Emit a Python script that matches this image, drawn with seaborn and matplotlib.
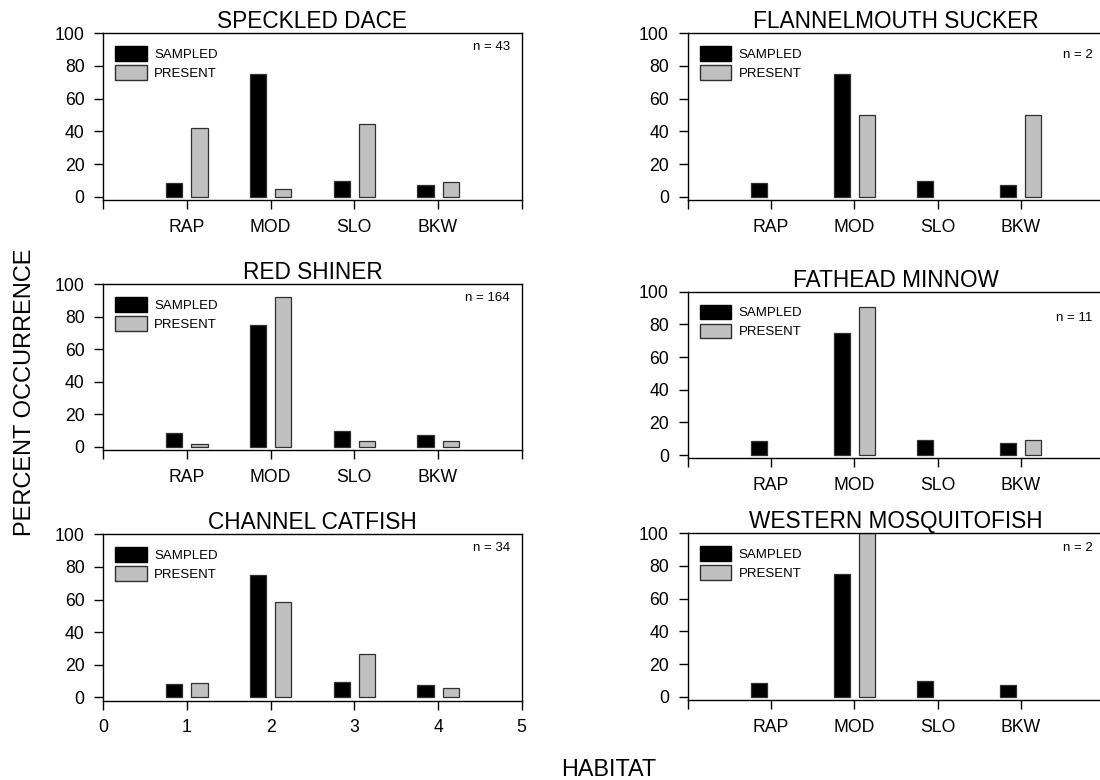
import numpy as np
import pandas as pd
import matplotlib
matplotlib.use("Agg")
import matplotlib.pyplot as plt
from matplotlib.patches import Patch
import seaborn as sns

# Habitat categories (coded 1-4 on the x axis)
habitats = ["RAP", "MOD", "SLO", "BKW"]
habitat_codes = [1, 2, 3, 4]

# Percent of samples taken in each habitat (same for every species)
sampled = [8.4, 75.0, 9.5, 7.4]

# Percent occurrence of each species by habitat
speckled_dace = [41.9, 4.7, 44.2, 9.3]
flannelmouth_sucker = [0.0, 50.0, 0.0, 50.0]
red_shiner = [1.8, 92.1, 3.7, 3.7]
fathead_minnow = [0.0, 90.9, 0.0, 9.1]
channel_catfish = [8.8, 58.8, 26.5, 5.9]
western_mosquitofish = [0.0, 100.0, 0.0, 0.0]

species = ["SPECKLED DACE", "FLANNELMOUTH SUCKER", "RED SHINER",
           "FATHEAD MINNOW", "CHANNEL CATFISH", "WESTERN MOSQUITOFISH"]
sample_sizes = [43, 2, 164, 11, 34, 2]
present = [speckled_dace, flannelmouth_sucker, red_shiner,
           fathead_minnow, channel_catfish, western_mosquitofish]

series = ["SAMPLED", "PRESENT"]
colors = {"SAMPLED": "#000000", "PRESENT": "#c0c0c0"}

sns.set_style("ticks")
plt.rcParams["font.family"] = ["Liberation Sans", "DejaVu Sans"]
plt.rcParams["text.color"] = "black"
plt.rcParams["axes.labelcolor"] = "black"
plt.rcParams["xtick.color"] = "black"
plt.rcParams["ytick.color"] = "black"

W, H = 1100, 780
fig = plt.figure(figsize=(W / 100, H / 100), dpi=100)

# panel frames in pixels: (left, top, width, height)
frames = [
    (103.3, 33.3, 418.4, 166.7),
    (687.7, 33.3, 416.5, 166.7),
    (103.3, 284.3, 418.4, 165.7),
    (687.7, 291.7, 416.5, 166.7),
    (103.3, 534.3, 418.4, 166.4),
    (687.7, 533.3, 416.5, 166.7),
]
n_label_y = [0.915, 0.87, 0.915, 0.84, 0.915, 0.91]

for i, (name, n, pres) in enumerate(zip(species, sample_sizes, present)):
    l, t, w, h = frames[i]
    ax = fig.add_axes([l / W, 1 - (t + h) / H, w / W, h / H])

    df = pd.DataFrame({
        "habitat": habitat_codes * 2,
        "pct": sampled + pres,
        "series": [series[0]] * 4 + [series[1]] * 4,
    })
    df = df[df["pct"] > 0]

    sns.barplot(data=df, x="habitat", y="pct", hue="series", hue_order=series,
                palette=colors, native_scale=True, width=0.6, gap=0.36,
                dodge=True, errorbar=None, edgecolor="#303030", linewidth=0.9,
                legend=False, ax=ax)

    ax.set_xlim(0, 5)
    ax.set_ylim(-2, 100)
    ax.set_xlabel("")
    ax.set_ylabel("")
    ax.set_yticks([0, 20, 40, 60, 80, 100])
    ax.set_xticks([0, 1, 2, 3, 4, 5])
    if i == 4:
        ax.set_xticklabels(["0", "1", "2", "3", "4", "5"])
    else:
        ax.set_xticklabels([""] + habitats + [""])
    ax.tick_params(axis="both", direction="out", length=6.5, width=1.0,
                   labelsize=12.7, color="black", labelcolor="black")
    ax.tick_params(axis="x", pad=7)
    ax.tick_params(axis="y", pad=7)
    for sp in ax.spines.values():
        sp.set_visible(True)
        sp.set_linewidth(1.0)
        sp.set_color("black")

    ax.set_title(name, fontsize=16.3, pad=2, color="black")

    handles = [Patch(facecolor=colors["SAMPLED"], edgecolor="#000000", linewidth=1.0),
               Patch(facecolor=colors["PRESENT"], edgecolor="#303030", linewidth=1.0)]
    ax.legend(handles=handles, labels=series, loc="upper left",
              bbox_to_anchor=(12 / w, 1 - 13 / h), frameon=False,
              fontsize=9.5, handlelength=2.4, handleheight=1.28,
              handletextpad=0.55, labelspacing=0.35, borderpad=0,
              borderaxespad=0, labelcolor="black")

    ax.text(0.972, n_label_y[i], f"n = {n}", transform=ax.transAxes,
            ha="right", va="center", fontsize=9.5, color="black")

fig.text(25 / W, 1 - 392 / H, "PERCENT OCCURRENCE", rotation=90,
         ha="center", va="center", fontsize=17, color="black")
fig.text(609 / W, 1 - 776.5 / H, "HABITAT", ha="center", va="baseline",
         fontsize=16.8, color="black")

fig.savefig("out.png", dpi=100)
